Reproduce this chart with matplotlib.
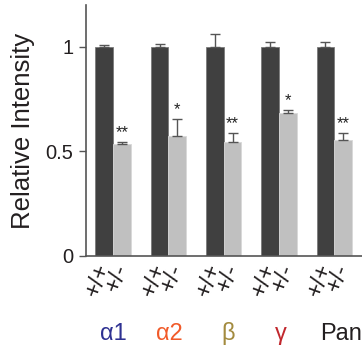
import matplotlib
matplotlib.use("Agg")
import matplotlib.pyplot as plt
import numpy as np

plt.rcParams['font.family'] = ['Liberation Sans', 'DejaVu Sans']

groups = ["α1", "α2", "β", "γ", "Pan"]
group_colors = ["#2E3192", "#F15A29", "#A38B3F", "#C1272D", "#231F20"]
genotypes = ["+/+", "+/-"]
wt_vals = [1.0, 1.0, 1.0, 1.0, 1.0]
wt_err = [0.008, 0.015, 0.06, 0.022, 0.022]
het_vals = [0.534, 0.574, 0.547, 0.683, 0.553]
het_err = [0.011, 0.083, 0.043, 0.017, 0.037]
signif = ["**", "*", "**", "*", "**"]

fig = plt.figure(figsize=(3.62, 3.5), dpi=100)
ax = fig.add_axes([0.2376, 0.2686, 0.7624, 0.7171])

x = np.arange(len(groups))
w = 0.32
ec = "#555555"
ax.bar(x - w/2, wt_vals, w, color="#404040", edgecolor="#7a7a7a", linewidth=0.6,
       yerr=[np.zeros(5), wt_err], error_kw=dict(ecolor=ec, elinewidth=1.0, capsize=3.5, capthick=1.0))
ax.bar(x + w/2, het_vals, w, color="#C0C0C0", edgecolor="#d8d8d8", linewidth=0.6,
       yerr=[np.zeros(5), het_err], error_kw=dict(ecolor=ec, elinewidth=1.0, capsize=3.5, capthick=1.0))

for i in range(len(groups)):
    ax.annotate(signif[i], (x[i] + w/2, het_vals[i] + het_err[i]), xytext=(0, 1),
                textcoords="offset points", ha="center", va="bottom", fontsize=12, color="#222222")

ax.set_xlim(-0.49, 4.5)
ax.set_ylim(0, 1.2)
ax.set_yticks([0, 0.5, 1])
ax.set_yticklabels(["0", "0.5", "1"])
ax.set_ylabel("Relative Intensity", fontsize=18.5, color="#231F20", labelpad=8)

ticks = np.concatenate([x - w/2, x + w/2])
labels = [genotypes[0]] * 5 + [genotypes[1]] * 5
ax.set_xticks(ticks)
ax.set_xticklabels(labels, rotation=70, ha="right", va="center", rotation_mode="anchor",
                   fontsize=17, color="#231F20")
ax.tick_params(axis="x", length=0, pad=6)
ax.tick_params(axis="y", length=5, width=1, color="#555555", labelsize=14.5, labelcolor="#231F20", pad=4)

for s in ["top", "right"]:
    ax.spines[s].set_visible(False)
for s in ["left", "bottom"]:
    ax.spines[s].set_color("#555555")
    ax.spines[s].set_linewidth(1.2)

shift = [0, 1, 3, 1, 5]
for i, (g, c) in enumerate(zip(groups, group_colors)):
    ax.annotate(g, (x[i], 0), xycoords=("data", "axes fraction"), xytext=(shift[i], -56),
                textcoords="offset points", ha="center", va="center", fontsize=17, color=c)

fig.savefig("out.png", dpi=100)
